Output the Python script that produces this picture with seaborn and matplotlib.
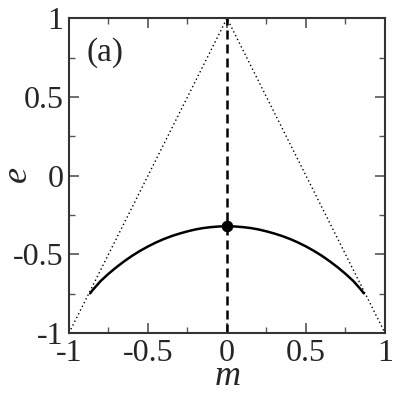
import numpy as np
import pandas as pd
import matplotlib
matplotlib.use("Agg")
import matplotlib.pyplot as plt
import seaborn as sns

# curve values (symmetric about m = 0)
m_half = [0.0, 0.05, 0.10, 0.15, 0.20, 0.25, 0.30, 0.35, 0.40, 0.45,
          0.50, 0.55, 0.60, 0.65, 0.70, 0.75, 0.80, 0.85, 0.866]
e_half = [-0.322, -0.323, -0.327, -0.333, -0.342, -0.354, -0.368, -0.384,
          -0.403, -0.425, -0.450, -0.478, -0.509, -0.544, -0.582, -0.624,
          -0.670, -0.727, -0.748]

# dotted triangle and dashed centre line
tri_m = [-1.0, 0.0, 1.0]
tri_e = [-1.0, 1.0, -1.0]
mid_m = [0.0, 0.0]
mid_e = [-1.0, 1.0]

# marked point
dot_m = [0.0]
dot_e = [-0.322]

ticks = [-1, -0.5, 0, 0.5, 1]
tick_labels = ["-1", "-0.5", "0", "0.5", "1"]
minor_ticks = [-0.75, -0.25, 0.25, 0.75]

curve = pd.DataFrame({
    "m": [-v for v in m_half[::-1]] + m_half[1:],
    "e": e_half[::-1] + e_half[1:],
})

sns.set_style("ticks")
plt.rcParams["font.family"] = ["Liberation Serif", "DejaVu Serif"]
plt.rcParams["mathtext.fontset"] = "custom"
plt.rcParams["mathtext.it"] = "Liberation Serif:italic"

fig = plt.figure(figsize=(4.07, 4.05), dpi=100)
ax = fig.add_axes([0.1695, 0.1778, 0.7764, 0.777])

ax.plot(tri_m, tri_e, color="black", linewidth=1.0, linestyle=(0, (1, 2)))
ax.plot(mid_m, mid_e, color="black", linewidth=1.8, linestyle=(0, (3.6, 2.0)))
sns.lineplot(data=curve, x="m", y="e", sort=False, estimator=None,
             color="black", linewidth=1.8, ax=ax)
sns.scatterplot(x=dot_m, y=dot_e, color="black", s=70, edgecolor="black",
                linewidth=0, zorder=5, ax=ax)

ax.set_xlim(-1, 1)
ax.set_ylim(-1, 1)
ax.set_xticks(ticks)
ax.set_xticklabels(tick_labels)
ax.set_yticks(ticks)
ax.set_yticklabels(tick_labels)
ax.set_xticks(minor_ticks, minor=True)
ax.set_yticks(minor_ticks, minor=True)

ax.tick_params(which="both", direction="in", top=True, right=True,
               color="#555555", labelsize=23, pad=4)
ax.tick_params(which="major", length=7, width=1.2)
ax.tick_params(which="minor", length=4, width=1.0)

for sp in ax.spines.values():
    sp.set_visible(True)
    sp.set_linewidth(1.5)
    sp.set_color("#333333")

ax.set_xlabel("$m$", fontsize=26)
ax.set_ylabel("$e$", fontsize=26)
ax.xaxis.set_label_coords(0.5, -0.085)
ax.yaxis.set_label_coords(-0.108, 0.5)
ax.text(0.054, 0.94, "(a)", transform=ax.transAxes, fontsize=24,
        ha="left", va="top")

fig.savefig("out.png", dpi=100)
